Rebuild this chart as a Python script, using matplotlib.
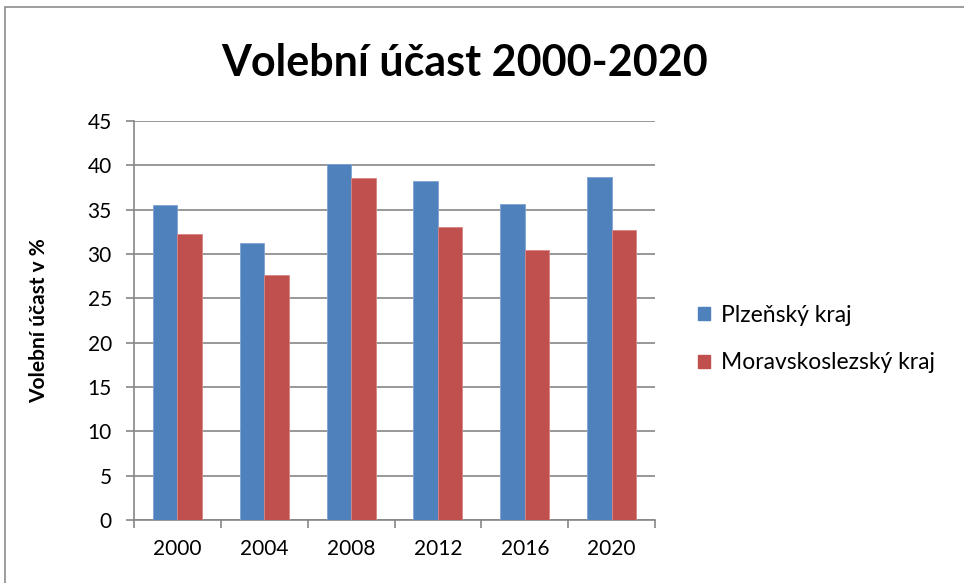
import numpy as np
import matplotlib.pyplot as plt
from matplotlib.patches import Rectangle, Patch

# ---------------------------------------------------------------------------
# Data
# ---------------------------------------------------------------------------
years = ["2000", "2004", "2008", "2012", "2016", "2020"]
plzensky = [35.5, 31.2, 40.2, 38.2, 35.6, 38.7]
moravskoslezsky = [32.2, 27.6, 38.6, 33.1, 30.5, 32.7]

blue = "#4F81BD"
red = "#C0504D"
grid_col = "#868686"

plt.rcParams["font.family"] = ["Lato", "DejaVu Sans"]

fig = plt.figure(figsize=(9.64, 5.83), dpi=100)
ax = fig.add_axes([0.139, 0.108, 0.5405, 0.6845])

# outer chart frame (cut off on the right and bottom)
fig.patches.append(Rectangle((5 / 964, -0.05), 1.2, 1 - 7 / 583 + 0.05,
                             transform=fig.transFigure, fill=False,
                             edgecolor="#8c8c8c", linewidth=1.2))

x = np.arange(len(years))
w = 0.282
ax.bar(x - w / 2, plzensky, w, color=blue, edgecolor="#7fa3d3", linewidth=0.6, zorder=3)
ax.bar(x + w / 2, moravskoslezsky, w, color=red, edgecolor="#d98583", linewidth=0.6, zorder=3)

ax.set_xlim(-0.5, len(years) - 0.5)
ax.set_ylim(0, 45)
ax.set_yticks(range(0, 46, 5))
ax.yaxis.grid(True, color=grid_col, linewidth=1.2, zorder=0)

# category labels at centers, tick marks at category borders
ax.set_xticks(x)
ax.set_xticklabels(years, fontsize=15)
ax.set_xticks(np.arange(-0.5, len(years)), minor=True)
ax.tick_params(axis="x", which="major", length=0, pad=14)
ax.tick_params(axis="x", which="minor", length=6, color=grid_col, width=1.2)
ax.tick_params(axis="y", length=6, color=grid_col, width=1.2, labelsize=15, pad=10)

for s in ["top", "right"]:
    ax.spines[s].set_visible(False)
for s in ["left", "bottom"]:
    ax.spines[s].set_color(grid_col)
    ax.spines[s].set_linewidth(1.2)

ax.set_ylabel("Volební účast v %", fontsize=15, fontweight="bold", labelpad=28)

fig.text(465 / 964, 1 - 63 / 583, "Volební účast 2000-2020", fontsize=31,
         fontweight="bold", ha="center", va="center")

handles = [Patch(facecolor=blue, edgecolor=blue), Patch(facecolor=red, edgecolor=red)]
fig.legend(handles, ["Plzeňský kraj", "Moravskoslezský kraj"],
           loc="center left", bbox_to_anchor=(0.703, 1 - 339 / 583),
           frameon=False, fontsize=16.5, handlelength=0.5, handleheight=0.5,
           handletextpad=0.5, labelspacing=1.15)

fig.savefig("out.png", dpi=100)
